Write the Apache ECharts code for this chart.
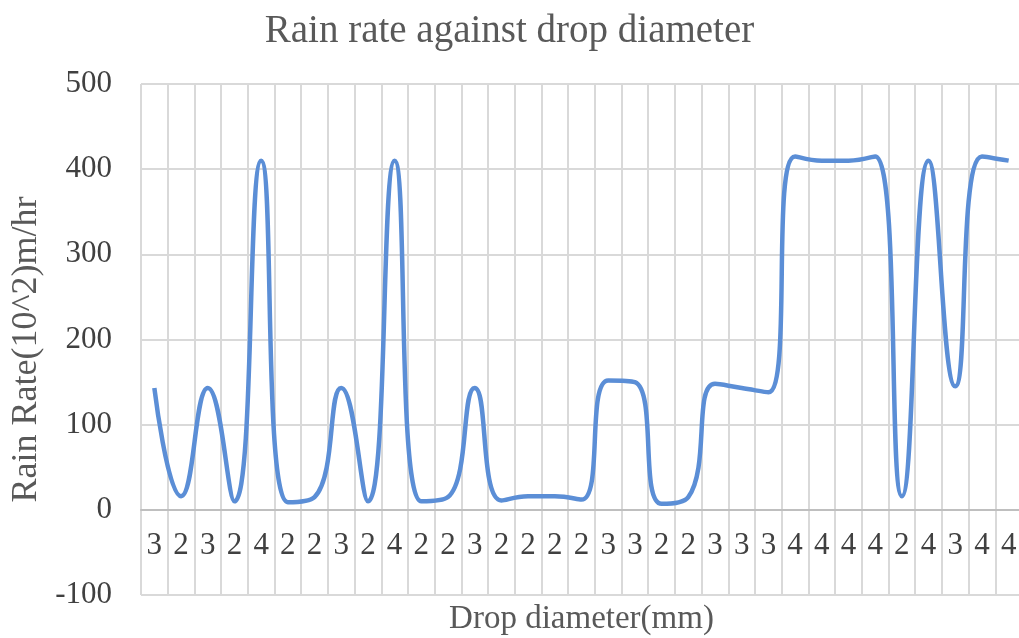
<!DOCTYPE html>
<html>
<head>
<meta charset="utf-8">
<script src="https://cdn.jsdelivr.net/npm/echarts@6/dist/echarts.min.js"></script>
<style>
html,body{margin:0;padding:0;background:#fff;}
#chart{width:1019px;height:638px;}
</style>
</head>
<body>
<div id="chart"></div>
<script>
// drop diameter (mm) per sample, as printed under the axis
var diameters = ['3','2','3','2','4','2','2','3','2','4','2','2','3','2','2','2','2','3','3','2','2','3','3','3','4','4','4','4','2','4','3','4','4'];
// rain rate (10^2 m/hr)
var rainRate = [143,16,143,10,410,9,15,143,10,410,10,15,143,11,16,16,12,152,150,7,15,148,143,138,415,410,410,415,16,410,145,415,410];
var yTicks = {min:-100, max:500, interval:100};

var fontFam = '"Liberation Serif","Times New Roman",serif';
var myChart = echarts.init(document.getElementById('chart'));
var option = {
    animation:false,
    title:{
        text:'Rain rate against drop diameter',
        left:'center',
        top:7,
        textStyle:{fontFamily:fontFam,fontSize:39,fontWeight:'normal',color:'#595959'}
    },
    grid:{left:141, right:-3, top:84, bottom:43, containLabel:false, outerBoundsMode:'none'},
    xAxis:{
        type:'category',
        data:diameters,
        boundaryGap:true,
        // sit the axis (line + labels) on the zero line, 100 units above the bottom
        offset:-85,
        name:'Drop diameter(mm)',
        nameLocation:'middle',
        nameGap:93,
        nameTextStyle:{fontFamily:fontFam,fontSize:33,color:'#595959'},
        axisLine:{onZero:false,lineStyle:{color:'#bfbfbf',width:2}},
        axisTick:{show:false},
        axisLabel:{fontFamily:fontFam,fontSize:31,color:'#404040',margin:20},
        splitLine:{show:true,lineStyle:{color:'#d9d9d9',width:2}}
    },
    yAxis:{
        type:'value',
        min:yTicks.min,
        max:yTicks.max,
        interval:yTicks.interval,
        name:'Rain Rate(10^2)m/hr',
        nameLocation:'middle',
        nameGap:96,
        nameTextStyle:{fontFamily:fontFam,fontSize:36,color:'#595959',padding:[0,20,0,0]},
        axisLine:{show:false},
        axisTick:{show:false},
        axisLabel:{fontFamily:fontFam,fontSize:31,color:'#404040',margin:29},
        splitLine:{show:true,lineStyle:{color:'#d9d9d9',width:2}}
    },
    series:[{
        type:'line',
        data:rainRate,
        smooth:0.5,
        symbol:'none',
        lineStyle:{color:'#5b8ed6',width:4.5},
        clip:false
    }]
};
myChart.setOption(option);
</script>
</body>
</html>
